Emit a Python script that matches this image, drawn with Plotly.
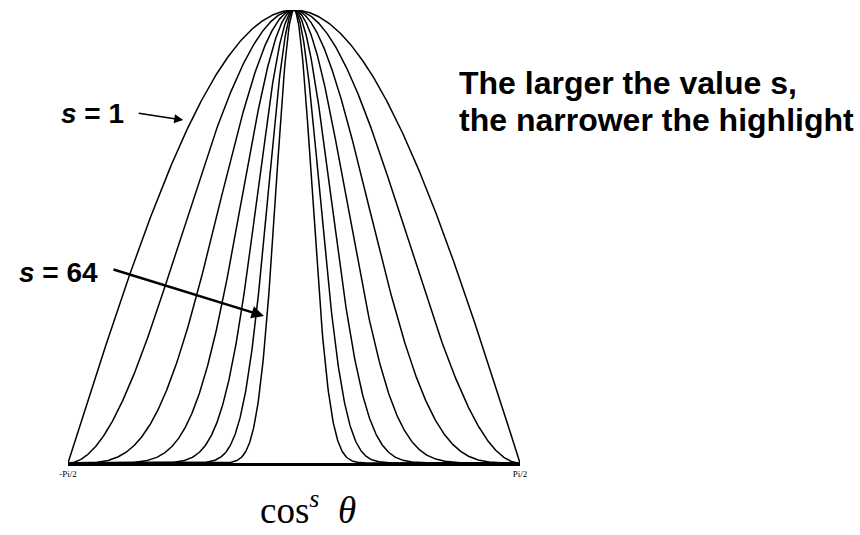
import numpy as np
import plotly.graph_objects as go

# Specular exponents drawn as cos^s(theta)
s_values = [1, 2, 4, 8, 16, 32, 64]
tick_values = [-np.pi / 2, np.pi / 2]
tick_labels = ["-Pi/2", "Pi/2"]

theta = np.linspace(-np.pi / 2, np.pi / 2, 801)

W, H = 860, 535
L, R, T, B = 68, 340, 10, 72
PW, PH = W - L - R, H - T - B


def px(x):
    return (x - L) / PW


def py(y):
    return (H - B - y) / PH


fig = go.Figure()
for s in s_values:
    fig.add_trace(go.Scatter(
        x=theta, y=np.cos(theta) ** s, mode="lines",
        line=dict(color="black", width=1.5), cliponaxis=False,
        showlegend=False, hoverinfo="skip",
    ))

label_font = dict(family="Liberation Sans", size=28, color="black")
note_font = dict(family="Liberation Sans", size=32, color="black")

annotations = [
    # s = 1 label and arrow
    dict(x=px(126), y=py(114), xref="paper", yref="paper", xanchor="right",
         yanchor="middle", text="<b><i>s</i> = 1</b>", showarrow=False,
         font=label_font),
    dict(x=-0.77, y=0.757, xref="x", yref="y", ax=-46, ay=-7, text="",
         showarrow=True, arrowhead=2, arrowsize=1.2, arrowwidth=1.5,
         arrowcolor="black"),
    # s = 64 label and arrow
    dict(x=px(100), y=py(272), xref="paper", yref="paper", xanchor="right",
         yanchor="middle", text="<b><i>s</i> = 64</b>", showarrow=False,
         font=label_font),
    dict(x=-0.2085, y=0.3245, xref="x", yref="y", ax=-152, ay=-47, text="",
         showarrow=True, arrowhead=2, arrowsize=1.0, arrowwidth=2.5,
         arrowcolor="black"),
    # explanatory note
    dict(x=px(457), y=py(83), xref="paper", yref="paper", xanchor="left",
         yanchor="middle", text="<b>The larger the value s,</b>",
         showarrow=False, font=note_font),
    dict(x=px(457), y=py(120), xref="paper", yref="paper", xanchor="left",
         yanchor="middle", text="<b>the narrower the highlight</b>",
         showarrow=False, font=note_font),
    # formula caption
    dict(x=px(308), y=py(507), xref="paper", yref="paper", xanchor="center",
         yanchor="middle", text="cos<sup><i>s</i></sup>  <i>θ</i>", showarrow=False,
         font=dict(family="Liberation Serif", size=37, color="black")),
]

fig.update_layout(
    width=W, height=H, autosize=False,
    margin=dict(l=L, r=R, t=T, b=B),
    paper_bgcolor="white", plot_bgcolor="white",
    annotations=annotations,
    xaxis=dict(range=[-np.pi / 2, np.pi / 2], showgrid=False, zeroline=False,
               showline=True, linecolor="black", linewidth=3,
               tickvals=tick_values, ticktext=tick_labels, ticks="",
               tickfont=dict(family="Liberation Serif", size=9, color="black")),
    yaxis=dict(range=[0, 1], visible=False),
)

fig.write_html("out.html")
